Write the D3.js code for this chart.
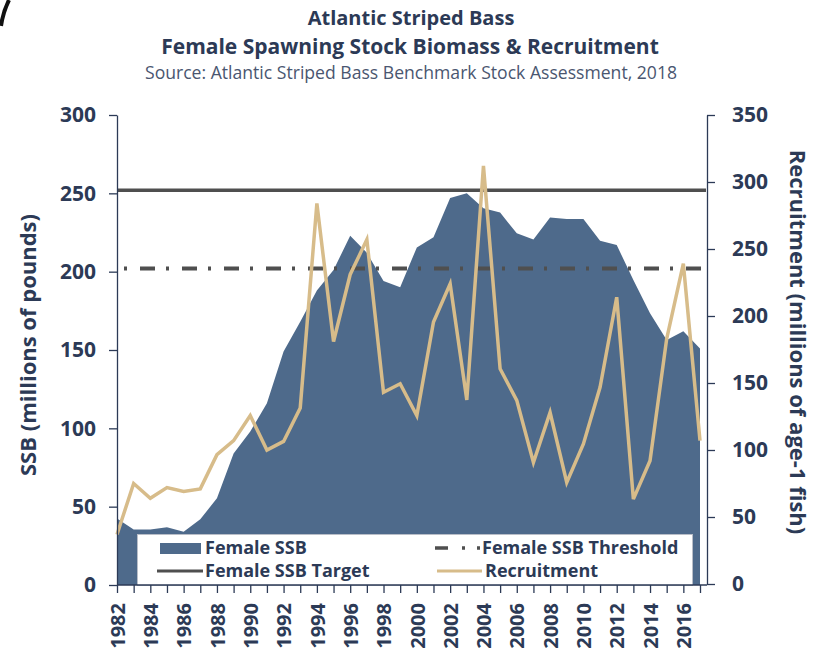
<!DOCTYPE html>
<html lang="en">
<head>
<meta charset="utf-8" />
<title>Atlantic Striped Bass</title>
<script src="https://cdn.jsdelivr.net/npm/d3@7/dist/d3.min.js"></script>
<style>
  body { margin: 0; background: #fff; }
  svg text { font-family: "Open Sans", Lato, sans-serif; font-variant-ligatures: none; }
</style>
</head>
<body>
<svg width="821" height="651"></svg>
<script>
// Female SSB & recruitment
var years = [1982, 1983, 1984, 1985, 1986, 1987, 1988, 1989, 1990, 1991, 1992, 1993,
             1994, 1995, 1996, 1997, 1998, 1999, 2000, 2001, 2002, 2003, 2004, 2005,
             2006, 2007, 2008, 2009, 2010, 2011, 2012, 2013, 2014, 2015, 2016, 2017];
var ssb = [42.5, 35.5, 35.5, 36.8, 34, 42, 55.3, 84, 98, 116, 149, 168,
           188, 201, 223, 212, 194, 190, 215.5, 222, 247, 250, 240.5, 237.7,
           224.5, 220.6, 234.5, 233.6, 233.6, 219.8, 217, 194.7, 173.4, 156.4, 162, 151];
var recruitment = [37, 75, 64, 72, 69, 71, 96.5, 107, 125.7, 100, 106.4, 131.4,
                   284, 181, 231, 257, 143, 149.4, 125.7, 195.5, 224, 137.4, 312, 160.6,
                   137, 90.7, 128, 75.8, 104.5, 146.8, 214, 63.3, 92, 183, 239, 107];
var ssbTarget = 252;
var ssbThreshold = 202;
var leftTicks = [0, 50, 100, 150, 200, 250, 300];
var rightTicks = [0, 50, 100, 150, 200, 250, 300, 350];
var yearLabels = [1982, 1984, 1986, 1988, 1990, 1992, 1994, 1996, 1998, 2000,
                  2002, 2004, 2006, 2008, 2010, 2012, 2014, 2016];

var navy = "#2c3a56";
var ssbFill = "#4e6a8b";
var tan = "#d7bc8a";
var gray = "#4f4f4f";

var svg = d3.select("svg");

var x = d3.scaleLinear().domain([1982, 2017]).range([117, 700]);
var yL = d3.scaleLinear().domain([0, 300]).range([585, 115]);
var yR = d3.scaleLinear().domain([0, 350]).range([584, 115]);

// little black corner artefact in the original
svg.append("path")
    .attr("d", "M9,0 Q3,12 1,26")
    .attr("fill", "none")
    .attr("stroke", "#111")
    .attr("stroke-width", 4);

// titles
svg.append("text").attr("x", 411).attr("y", 25).attr("text-anchor", "middle")
    .attr("font-size", 20).attr("font-weight", "bold").attr("fill", navy)
    .text("Atlantic Striped Bass");
svg.append("text").attr("x", 410).attr("y", 54).attr("text-anchor", "middle")
    .attr("font-size", 21).attr("font-weight", "bold").attr("fill", navy)
    .text("Female Spawning Stock Biomass & Recruitment");
svg.append("text").attr("x", 411).attr("y", 79).attr("text-anchor", "middle")
    .attr("font-size", 17.6).attr("fill", "#4a5670")
    .text("Source: Atlantic Striped Bass Benchmark Stock Assessment, 2018");

// SSB area
var area = d3.area()
    .x(function (d, i) { return x(years[i]); })
    .y0(yL(0))
    .y1(function (d) { return yL(d); });

svg.append("path")
    .datum(ssb)
    .attr("d", area)
    .attr("fill", ssbFill);

// reference lines
svg.append("line")
    .attr("x1", x(1982)).attr("x2", 706)
    .attr("y1", yL(ssbTarget)).attr("y2", yL(ssbTarget))
    .attr("stroke", gray).attr("stroke-width", 3.5);

svg.append("line")
    .attr("x1", x(1982) + 7).attr("x2", 706)
    .attr("y1", yL(ssbThreshold)).attr("y2", yL(ssbThreshold))
    .attr("stroke", gray).attr("stroke-width", 4)
    .attr("stroke-dasharray", "3,13,15,11");

// recruitment line
var line = d3.line()
    .x(function (d, i) { return x(years[i]); })
    .y(function (d) { return yR(d); });

svg.append("path")
    .datum(recruitment)
    .attr("d", line)
    .attr("fill", "none")
    .attr("stroke", tan)
    .attr("stroke-width", 3.5)
    .attr("stroke-linejoin", "miter");

// legend
var legend = svg.append("g");
legend.append("rect")
    .attr("x", 137.5).attr("y", 534.5).attr("width", 555).attr("height", 51)
    .attr("fill", "#fff").attr("stroke", "#b9bec8").attr("stroke-width", 1);

legend.append("rect").attr("x", 160).attr("y", 543).attr("width", 41).attr("height", 11)
    .attr("fill", ssbFill);
legend.append("line").attr("x1", 157).attr("x2", 203).attr("y1", 571).attr("y2", 571)
    .attr("stroke", gray).attr("stroke-width", 3);
legend.append("line").attr("x1", 435).attr("x2", 481).attr("y1", 548).attr("y2", 548)
    .attr("stroke", gray).attr("stroke-width", 3.5)
    .attr("stroke-dasharray", "13,14,3,12,3,20");
legend.append("line").attr("x1", 437).attr("x2", 482).attr("y1", 571).attr("y2", 571)
    .attr("stroke", tan).attr("stroke-width", 3);

var legendText = [
    { label: "Female SSB", x: 205, y: 548 },
    { label: "Female SSB Target", x: 205, y: 571 },
    { label: "Female SSB Threshold", x: 482, y: 548 },
    { label: "Recruitment", x: 485, y: 571 }
];
legend.selectAll("text.leg")
    .data(legendText)
    .enter().append("text")
    .attr("class", "leg")
    .attr("x", function (d) { return d.x; })
    .attr("y", function (d) { return d.y; })
    .attr("dy", "0.36em")
    .attr("font-size", 18).attr("font-weight", "bold").attr("fill", navy)
    .text(function (d) { return d.label; });

// axes
function styleAxis(g) {
    g.selectAll("path.domain").attr("stroke", navy).attr("stroke-width", 1.3);
    g.selectAll(".tick line").attr("stroke", navy).attr("stroke-width", 1.3);
    g.selectAll(".tick text")
        .attr("fill", navy)
        .attr("font-size", 21)
        .attr("font-weight", "bold")
        .attr("font-family", "'Open Sans', Lato, sans-serif");
}

svg.append("g")
    .attr("transform", "translate(117,0)")
    .call(d3.axisLeft(yL).tickValues(leftTicks).tickSize(8).tickSizeOuter(0).tickPadding(13))
    .call(styleAxis);

svg.append("g")
    .attr("transform", "translate(707,0)")
    .call(d3.axisRight(yR).tickValues(rightTicks).tickSize(8).tickSizeOuter(0).tickPadding(17))
    .call(styleAxis);

var xAxis = svg.append("g")
    .attr("transform", "translate(0,585)")
    .call(d3.axisBottom(x).tickValues(years).tickSize(8).tickSizeOuter(0)
        .tickFormat(function (d) { return yearLabels.indexOf(d) >= 0 ? d : ""; }))
    .call(styleAxis);
xAxis.select("path.domain").attr("d", "M117,0H707");
xAxis.selectAll(".tick text")
    .attr("transform", "rotate(-90)")
    .attr("text-anchor", "end")
    .attr("x", -18)
    .attr("y", 0)
    .attr("dy", "0.36em")
    .attr("font-size", 20);

// axis titles
svg.append("text")
    .attr("transform", "translate(36,345) rotate(-90)")
    .attr("text-anchor", "middle")
    .attr("font-size", 22).attr("font-weight", "bold").attr("fill", navy)
    .text("SSB (millions of pounds)");

svg.append("text")
    .attr("transform", "translate(790,342) rotate(90)")
    .attr("text-anchor", "middle")
    .attr("font-size", 22).attr("font-weight", "bold").attr("fill", navy)
    .text("Recruitment (millions of age-1 fish)");
</script>
</body>
</html>
